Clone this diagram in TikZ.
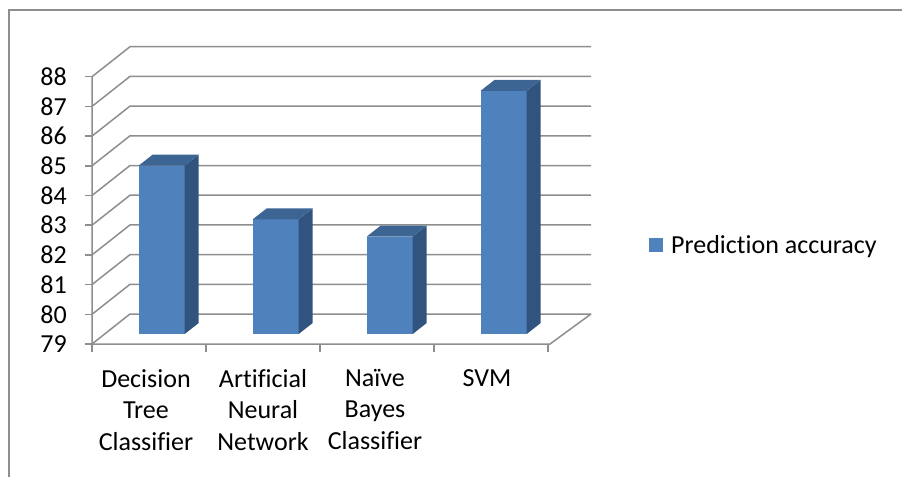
\documentclass[tikz,border=0pt]{standalone}
\usepackage{fontspec}
\setmainfont{Carlito}[Ligatures=NoCommon]
\definecolor{barfront}{HTML}{4F81BD}
\definecolor{barside}{HTML}{31547E}
\definecolor{bartop}{HTML}{3C6594}
\definecolor{gridgray}{HTML}{8E8E8E}
\newcommand{\drawbar}[2]{%
	\pgfmathsetmacro{\barL}{#1+12.7-23}
	\pgfmathsetmacro{\barR}{#1+12.7+23}
	\pgfmathsetmacro{\barT}{334-29.7*(#2-79)}
	\fill[barfront] (\barL,334) rectangle (\barR,\barT);
	\fill[barside] (\barR,334) -- ++(14,-11) -- (\barR+14,\barT-11) -- (\barR,\barT) -- cycle;
	\fill[bartop] (\barL,\barT) -- (\barR,\barT) -- ++(14,-11) -- (\barL+14,\barT-11) -- cycle;
}

\begin{document}
\begin{tikzpicture}[x=1pt, y=-1pt,
	gridline/.style={gridgray, line width=1.5pt},
	ticklabel/.style={anchor=east, inner sep=0pt, font=\fontsize{26}{31.5}\selectfont},
	catlabel/.style={anchor=north, inner sep=0pt, align=center, font=\fontsize{26}{31.5}\selectfont}]
	\useasboundingbox (0,0) rectangle (902,477);
	\draw[gridgray, line width=1.2pt] (9,477) -- (9,10) -- (902,10);

	\foreach \v in {79,...,88} {
		\pgfmathsetmacro{\gy}{344-29.7*(\v-79)}
		\draw[gridline] (92,\gy) -- ++(38,-30) -- (591,\gy-30);
		\draw[gridline] (85,\gy) -- (92,\gy);
		\node[ticklabel] (tick\v) at (67,\gy) {\v};
	}
	\draw[gridline] (92,76) -- (92,344) -- (550,344) -- (591,314);
	\foreach \k in {0,...,4}
		\draw[gridline] (92+114*\k,344) -- ++(0,8);

	\drawbar{149}{84.67}
	\drawbar{263}{82.86}
	\drawbar{377}{82.28}
	\drawbar{491}{87.19}

	\node[catlabel] (dtc) at (146,369) {Decision\\Tree\\Classifier};
	\node[catlabel] (ann) at (263,369) {Artificial\\Neural\\Network};
	\node[catlabel] (nbc) at (375,369) {Naïve\\Bayes\\Classifier};
	\node[catlabel] (svm) at (487,369) {SVM};

	\fill[barfront] (649,238) rectangle (663,252);
	\node[anchor=base west, inner sep=0pt, font=\fontsize{26}{31.5}\selectfont] (legend) at (671,253) {Prediction accuracy};
\end{tikzpicture}
\end{document}
